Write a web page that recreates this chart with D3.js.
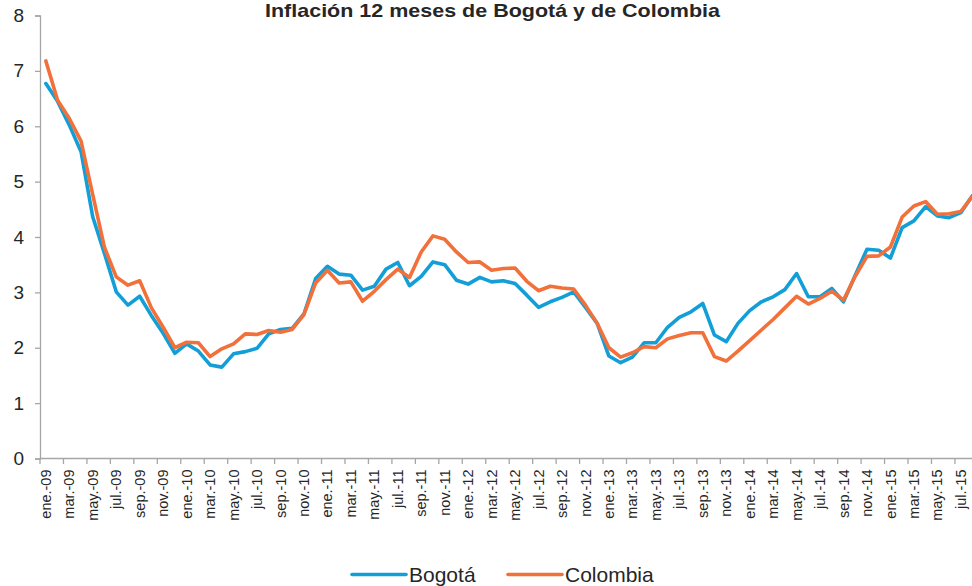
<!DOCTYPE html>
<html>
<head>
<meta charset="utf-8">
<script src="https://cdn.jsdelivr.net/npm/d3@7"></script>
<style>
  html, body { margin: 0; padding: 0; background: #fff; }
  svg { display: block; font-family: "Liberation Sans", Arial, sans-serif; }
</style>
</head>
<body>
<svg id="chart" width="972" height="586"></svg>
<script>
// Monthly categories, Jan 2009 – Aug 2015
const monthNames = ["ene.", "feb.", "mar.", "abr.", "may.", "jun.", "jul.", "ago.", "sep.", "oct.", "nov.", "dic."];
const years = ["09", "10", "11", "12", "13", "14", "15"];
const categories = [];
years.forEach(yr => monthNames.forEach(m => categories.push(m + "-" + yr)));
categories.splice(80); // last month: ago.-15

// 12-month inflation (%)
const bogota = [
  6.77, 6.45, 6.02, 5.54, 4.36, 3.70, 3.01, 2.77, 2.93, 2.58, 2.26, 1.90,
  2.07, 1.94, 1.69, 1.65, 1.89, 1.93, 1.99, 2.25, 2.33, 2.35, 2.61, 3.25,
  3.47, 3.33, 3.31, 3.04, 3.11, 3.42, 3.54, 3.12, 3.29, 3.55, 3.50, 3.22,
  3.15, 3.27, 3.19, 3.21, 3.16, 2.95, 2.73, 2.83, 2.91, 3.01, 2.73, 2.44,
  1.85, 1.73, 1.83, 2.09, 2.09, 2.37, 2.55, 2.65, 2.80, 2.23, 2.11, 2.44,
  2.67, 2.83, 2.92, 3.05, 3.34, 2.92, 2.92, 3.07, 2.83, 3.31, 3.78, 3.76,
  3.62, 4.17, 4.29, 4.55, 4.38, 4.35, 4.44, 4.75
];
const colombia = [
  7.18, 6.47, 6.14, 5.73, 4.76, 3.81, 3.28, 3.13, 3.21, 2.72, 2.37, 2.00,
  2.10, 2.09, 1.84, 1.98, 2.07, 2.25, 2.24, 2.31, 2.28, 2.33, 2.60, 3.17,
  3.40, 3.17, 3.19, 2.84, 3.02, 3.23, 3.42, 3.27, 3.73, 4.02, 3.96, 3.73,
  3.54, 3.55, 3.40, 3.43, 3.44, 3.20, 3.03, 3.11, 3.08, 3.06, 2.77, 2.44,
  2.00, 1.83, 1.91, 2.02, 2.00, 2.16, 2.22, 2.27, 2.27, 1.84, 1.76, 1.94,
  2.13, 2.32, 2.51, 2.72, 2.93, 2.79, 2.89, 3.02, 2.86, 3.29, 3.65, 3.66,
  3.82, 4.36, 4.56, 4.64, 4.41, 4.42, 4.46, 4.74
];
const yTicks = [0, 1, 2, 3, 4, 5, 6, 7, 8];

const seriesList = [
  { name: "Bogotá", values: bogota, color: "#129fd7" },
  { name: "Colombia", values: colombia, color: "#f2703a" }
];

const svg = d3.select("#chart");
const plotLeft = 40, plotTop = 15.5, plotBottom = 458.5;
const step = 11.73;

const x = d3.scaleBand()
  .domain(categories)
  .range([plotLeft, plotLeft + step * categories.length])
  .padding(0);
const y = d3.scaleLinear().domain([0, 8]).range([plotBottom, plotTop]);

const axisColor = "#a6a6a6";
const textColor = "#262626";

// Title
svg.append("text")
  .attr("x", 492.5).attr("y", 17)
  .attr("text-anchor", "middle")
  .attr("font-size", 19).attr("font-weight", "bold")
  .attr("textLength", 455).attr("lengthAdjust", "spacingAndGlyphs")
  .attr("fill", textColor)
  .text("Inflación 12 meses de Bogotá y de Colombia");

// Y axis
const yAxis = svg.append("g")
  .attr("transform", `translate(${plotLeft},0)`)
  .call(d3.axisLeft(y).tickValues(yTicks).tickSize(5).tickPadding(11).tickFormat(d3.format("d")));
yAxis.select(".domain").attr("stroke", axisColor).attr("stroke-width", 1.3);
yAxis.selectAll(".tick line").attr("stroke", axisColor).attr("stroke-width", 1.3);
yAxis.selectAll(".tick text")
  .attr("font-size", 19).attr("fill", textColor)
  .attr("font-family", "Liberation Sans, Arial, sans-serif");

// X axis: baseline, tick marks at every second category boundary, labels centred on their months
const xg = svg.append("g");
xg.append("line")
  .attr("x1", plotLeft).attr("x2", x.range()[1])
  .attr("y1", y(0)).attr("y2", y(0))
  .attr("stroke", axisColor).attr("stroke-width", 1.3);
const labelled = categories.filter((c, i) => i % 2 === 0);
xg.selectAll("line.tick")
  .data(labelled)
  .join("line")
  .attr("class", "tick")
  .attr("x1", d => x(d)).attr("x2", d => x(d))
  .attr("y1", y(0)).attr("y2", y(0) + 5.5)
  .attr("stroke", axisColor).attr("stroke-width", 1.3);
xg.selectAll("text")
  .data(labelled)
  .join("text")
  .attr("transform", d => `translate(${x(d) + x.bandwidth() / 2},${y(0) + 11}) rotate(-90)`)
  .attr("text-anchor", "end")
  .attr("dy", "0.35em")
  .attr("font-size", 14.5)
  .attr("fill", textColor)
  .text(d => d);

// Series lines
const line = d3.line()
  .x((d, i) => x(categories[i]) + x.bandwidth() / 2)
  .y(d => y(d));

svg.selectAll("path.series")
  .data(seriesList)
  .join("path")
  .attr("class", "series")
  .attr("fill", "none")
  .attr("stroke", d => d.color)
  .attr("stroke-width", 3.6)
  .attr("stroke-linejoin", "round")
  .attr("stroke-linecap", "round")
  .attr("d", d => line(d.values));

// Legend
const legendItems = [
  { x: 352, ...seriesList[0] },
  { x: 508, ...seriesList[1] }
];
const lg = svg.selectAll("g.legend")
  .data(legendItems)
  .join("g")
  .attr("class", "legend")
  .attr("transform", d => `translate(${d.x},574.5)`);
lg.append("line")
  .attr("x1", 0).attr("x2", 54)
  .attr("stroke", d => d.color)
  .attr("stroke-width", 3.6)
  .attr("stroke-linecap", "round");
lg.append("text")
  .attr("x", 57).attr("y", 7.5)
  .attr("font-size", 21)
  .attr("fill", textColor)
  .text(d => d.name);
</script>
</body>
</html>
